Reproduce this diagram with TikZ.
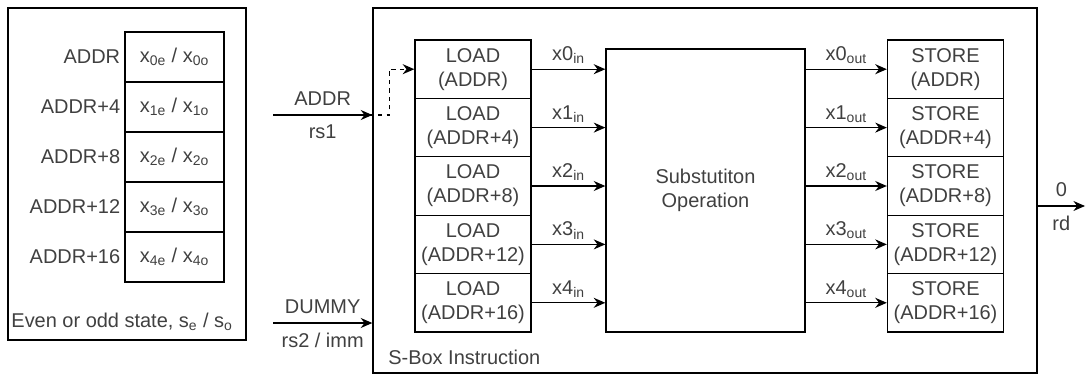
\documentclass[tikz,border=0pt]{standalone}
\usepackage{fontspec}
\setmainfont{Liberation Sans}
\usetikzlibrary{arrows.meta,calc}

\tikzset{
  memcell/.style={draw, minimum width=24.75mm, minimum height=12.5mm, inner sep=0pt},
  opcell/.style={draw, align=center, minimum width=29mm, minimum height=14.6mm, inner sep=0pt},
  arr/.style={-{Stealth[length=2.9mm, width=2.5mm]}},
}

\begin{document}
\begin{tikzpicture}[x=0.25mm, y=-0.25mm, line width=0.95pt, font=\fontsize{14.2}{17}\selectfont, text=black!75]
        \useasboundingbox (0,0) rectangle (1086,376);
        % state in memory
        \draw (8,8) rectangle (246,340);
        \foreach \i/\lbl in {0/ADDR, 1/ADDR+4, 2/ADDR+8, 3/ADDR+12, 4/ADDR+16} {
            \node[memcell] (mem\i) at (174.5, 57+50*\i) {x\textsubscript{\i e} / x\textsubscript{\i o}};
            \node at (mem\i.west) [left, inner sep=2.5pt] {\lbl};
        }
        \node (state) at (122,322) {Even or odd state, s\textsubscript{e} / s\textsubscript{o}};

        % the instruction itself
        \node[draw, minimum width=166mm, minimum height=91.25mm, inner sep=0pt] (sbox) at (705,190.5) {};
        \node (sboxname) at (383,357) [anchor=west] {S-Box Instruction};
        \foreach \i/\lbl in {0/ADDR, 1/ADDR+4, 2/ADDR+8, 3/ADDR+12, 4/ADDR+16} {
            \node[opcell] (load\i) at (473, 69.2+58.4*\i) {LOAD\\(\lbl)};
            \node[opcell] (store\i) at (945.5, 69.2+58.4*\i) {STORE\\(\lbl)};
        }
        \node[draw, align=center, minimum width=49.75mm, minimum height=70.75mm] (subst) at (705.5,190.5) {Substutiton\\Operation};
        \foreach \i in {0,...,4} {
            \draw[arr] (load\i.east) -- (load\i.east -| subst.west) node[midway, above] {x\i\textsubscript{in}};
            \draw[arr] (store\i.west -| subst.east) -- (store\i.west) node[midway, above] {x\i\textsubscript{out}};
        }

        % register operands
        \coordinate (rs1) at (273,115);
        \coordinate (rs2) at (273,323);
        \coordinate (rd) at (1085,206);
        \draw[arr] (rs1) -- (rs1 -| sbox.west) node[midway, above=3pt] {ADDR} node[midway, below=3pt] {rs1};
        \draw[arr, dashed] ($(rs1 -| sbox.west)+(-28,0)$) -- ++(45,0) |- (load0.west);
        \draw[arr] (rs2) -- (rs2 -| sbox.west) node[midway, above=3pt] {DUMMY} node[midway, below=3pt] {rs2 / imm};
        \draw[arr] (rd -| sbox.east) -- (rd) node[midway, above=3pt] {0} node[midway, below=3pt] {rd};
    \end{tikzpicture}
\end{document}
